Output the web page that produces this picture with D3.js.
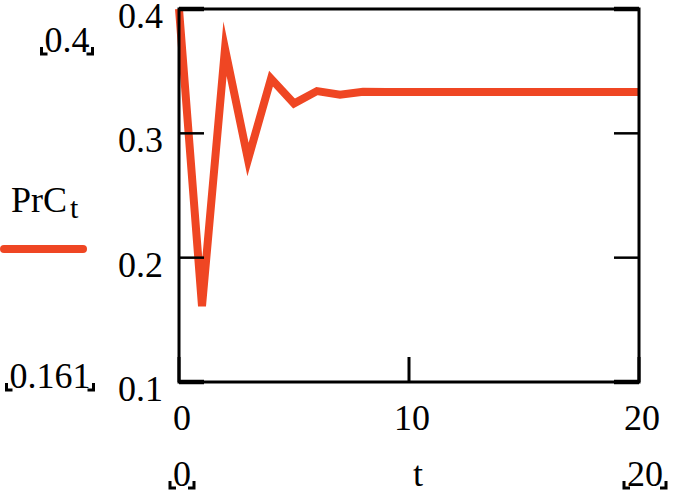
<!DOCTYPE html>
<html><head><meta charset="utf-8">
<script src="https://cdn.jsdelivr.net/npm/d3@7"></script>
<style>html,body{margin:0;padding:0;background:#fff;}svg{display:block;}</style>
</head><body>
<svg id="c" width="676" height="494"></svg>
<script>
const tValues = [0,1,2,3,4,5,6,7,8,9,10,11,12,13,14,15,16,17,18,19,20];
const prC = [0.4,0.161,0.368,0.279,0.344,0.324,0.334,0.331,0.3335,0.3333,0.3333,0.3333,0.3333,0.3333,0.3333,0.3333,0.3333,0.3333,0.3333,0.3333,0.3333];
const yTicks = [0.1,0.2,0.3,0.4];
const xTicks = [0,10,20];
const yLimits = ["0.4","0.161"];
const xLimits = ["0","20"];
const xName = "t";
const seriesName = "PrC";
const seriesSub = "t";

const svg = d3.select("#c");
const L=179, R=639, T=9, B=382;
const x = d3.scaleLinear().domain([0,20]).range([L,R]);
const y = d3.scaleLinear().domain([0.1,0.4]).range([B,T]);
const font = "'Liberation Serif','Times New Roman',serif";
const red = "#ef4623";
const fs = 36;

// data line
svg.append("path").datum(tValues.map((t,i)=>[t,prC[i]]))
  .attr("d", d3.line().x(d=>x(d[0])).y(d=>y(d[1])))
  .attr("fill","none").attr("stroke",red).attr("stroke-width",8)
  .attr("stroke-linejoin","miter").attr("stroke-miterlimit",10);

// frame
svg.append("rect").attr("x",L).attr("y",T).attr("width",R-L).attr("height",B-T)
  .attr("fill","none").attr("stroke","#000").attr("stroke-width",3);

// ticks
const tk=25;
yTicks.forEach(v=>{
  const sw = (v===0.4||v===0.1)?4.5:2.5;
  svg.append("line").attr("x1",L).attr("x2",L+tk).attr("y1",y(v)).attr("y2",y(v)).attr("stroke","#000").attr("stroke-width",sw);
  svg.append("line").attr("x1",R).attr("x2",R-tk).attr("y1",y(v)).attr("y2",y(v)).attr("stroke","#000").attr("stroke-width",sw);
  svg.append("text").attr("x",L-16).attr("y",y(v)+19).attr("text-anchor","end")
    .attr("font-family",font).attr("font-size",fs).text(String(v));
});
xTicks.forEach(v=>{
  svg.append("line").attr("x1",x(v)).attr("x2",x(v)).attr("y1",B).attr("y2",B-tk).attr("stroke","#000").attr("stroke-width",3);
  svg.append("text").attr("x",x(v)+3).attr("y",430).attr("text-anchor","middle")
    .attr("font-family",font).attr("font-size",fs).text(String(v));
});

// bracketed limit labels
function bracketLabel(cx, base, txt){
  const g = svg.append("g");
  const t = g.append("text").attr("x",cx).attr("y",base).attr("text-anchor","middle")
    .attr("font-family",font).attr("font-size",fs).text(txt);
  const bb = t.node().getBBox();
  const x0 = bb.x-3, x1 = bb.x+bb.width+3, yb = base+2, h=7;
  g.append("path").attr("d",`M${x0},${yb-h}V${yb}H${x0+6}`).attr("fill","none").attr("stroke","#000").attr("stroke-width",3);
  g.append("path").attr("d",`M${x1},${yb-h}V${yb}H${x1-6}`).attr("fill","none").attr("stroke","#000").attr("stroke-width",3);
}
bracketLabel(67, 52, yLimits[0]);
bracketLabel(50, 388, yLimits[1]);
bracketLabel(182, 486, xLimits[0]);
bracketLabel(645, 486, xLimits[1]);

// x axis name
svg.append("text").attr("x",418).attr("y",486).attr("text-anchor","middle")
  .attr("font-family",font).attr("font-size",fs).text(xName);

// legend
const lt = svg.append("text").attr("x",11).attr("y",212).attr("font-family",font).attr("font-size",fs);
lt.append("tspan").text(seriesName);
lt.append("tspan").attr("dx",3).attr("dy",6).attr("font-size",30).text(seriesSub);
svg.append("line").attr("x1",4).attr("x2",83).attr("y1",249).attr("y2",249)
  .attr("stroke",red).attr("stroke-width",8).attr("stroke-linecap","round");
</script>
</body></html>
